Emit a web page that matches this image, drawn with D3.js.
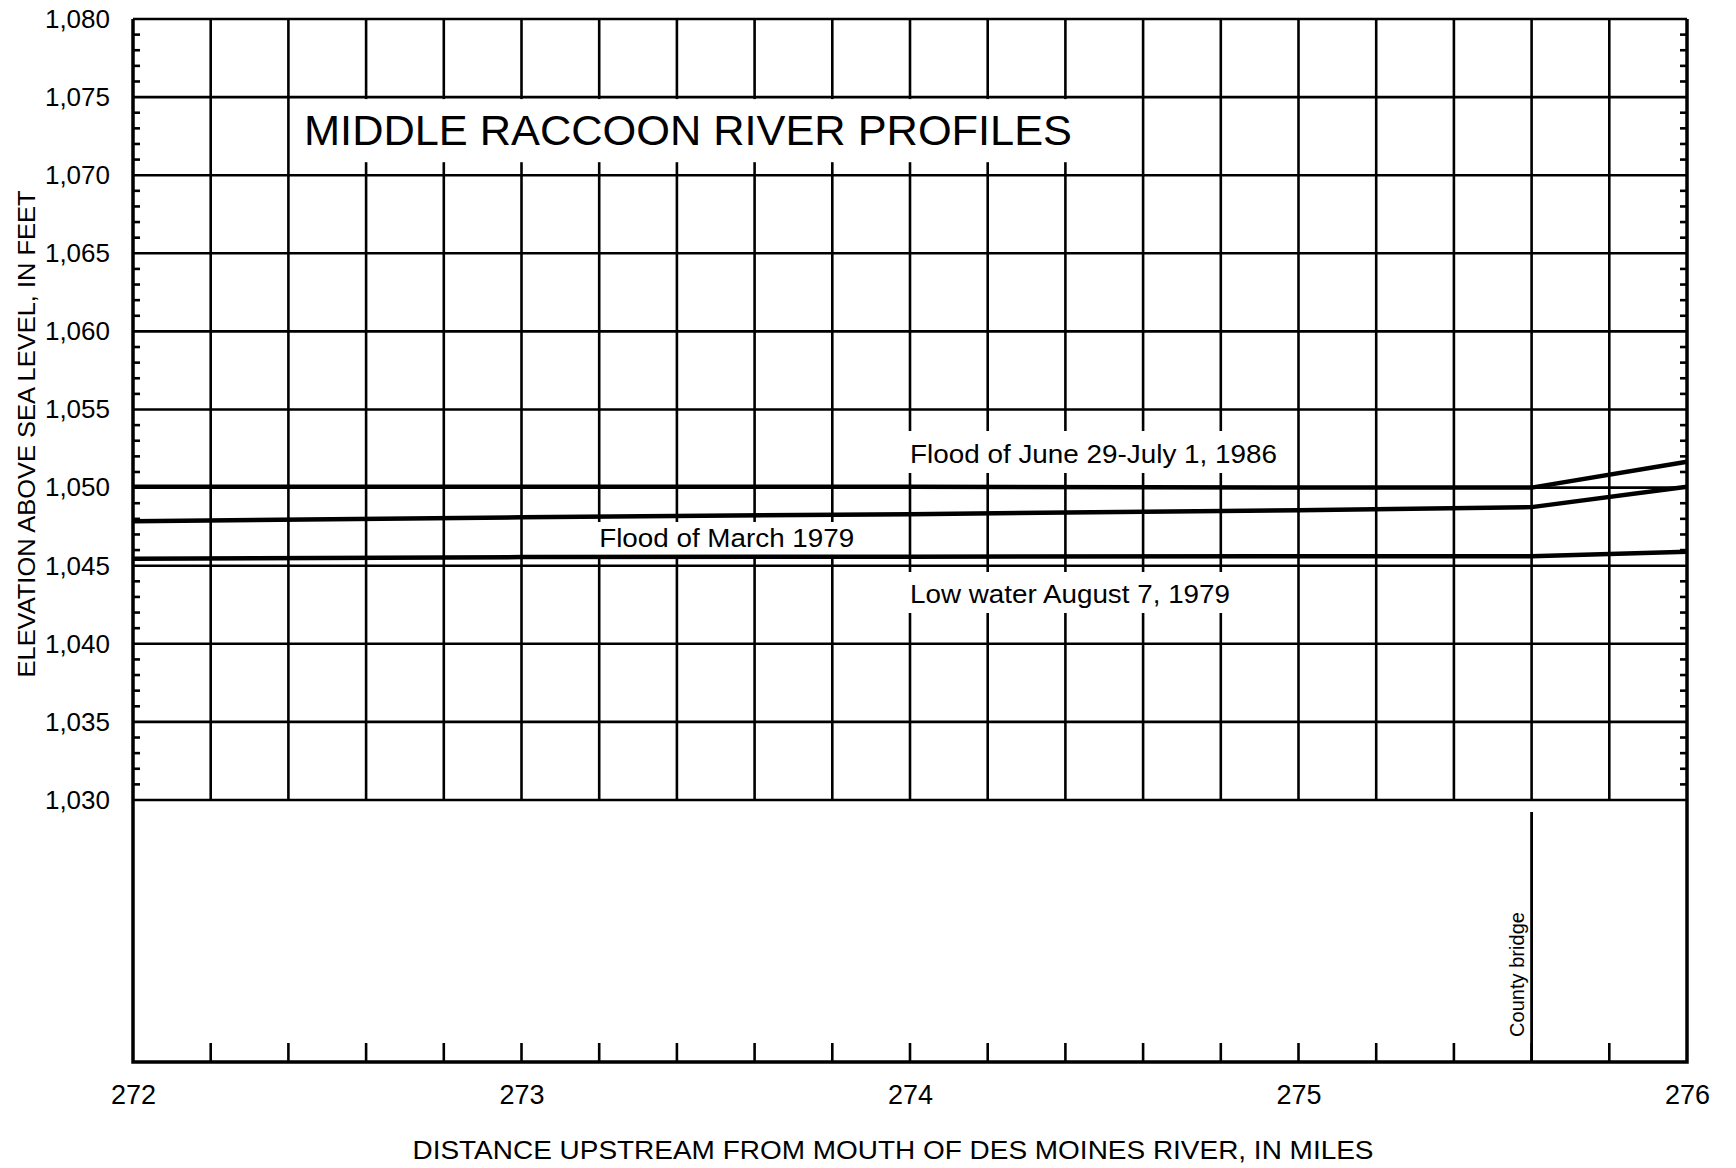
<!DOCTYPE html>
<html>
<head>
<meta charset="utf-8">
<title>Middle Raccoon River Profiles</title>
<script src="https://d3js.org/d3.v7.min.js"></script>
<style>
  body { margin: 0; background: #fff; }
  svg { display: block; font-family: "Liberation Sans", Arial, Helvetica, sans-serif; }
  .grid line { stroke: #000; stroke-width: 2.6; }
  .profile { fill: none; stroke: #000; stroke-width: 4.5; stroke-linejoin: round; }
</style>
</head>
<body>
<svg width="1736" height="1168"></svg>
<script>
// river miles where the profiles were read
var miles = [272, 273, 274, 275, 275.6, 276];

// water surface elevations, feet
var flood1986 = [1050.05, 1050.05, 1050.05, 1050.0, 1050.0, 1051.65];
var flood1979 = [1047.85, 1048.1, 1048.3, 1048.55, 1048.75, 1050.05];
var lowWater  = [1045.45, 1045.55, 1045.58, 1045.6, 1045.6, 1045.9];

var seriesNames = ["Flood of June 29-July 1, 1986", "Flood of March 1979", "Low water August 7, 1979"];

// axis labels
var xLabels = [272, 273, 274, 275, 276];
var yLabels = [1030, 1035, 1040, 1045, 1050, 1055, 1060, 1065, 1070, 1075, 1080];
var bridgeMile = 275.6;

// plot box (note: "top" is a reserved window global, so use other names)
var pLeft = 133, pRight = 1687, pTop = 19, gridBottom = 800, pBottom = 1062;

var x = d3.scaleLinear().domain([272, 276]).range([pLeft, pRight]);
var y = d3.scaleLinear().domain([1030, 1080]).range([gridBottom, pTop]);

var svg = d3.select("svg");

// vertical grid every 0.2 mile, horizontal every 5 ft
var xGrid = d3.range(1, 20).map(function(i) { return 272 + i * 0.2; });
var grid = svg.append("g").attr("class", "grid");
grid.selectAll(".v").data(xGrid).enter().append("line")
  .attr("x1", function(d) { return x(d); }).attr("x2", function(d) { return x(d); })
  .attr("y1", pTop).attr("y2", gridBottom);
grid.selectAll(".h").data(yLabels).enter().append("line")
  .attr("x1", pLeft).attr("x2", pRight)
  .attr("y1", function(d) { return y(d); }).attr("y2", function(d) { return y(d); });

// minor 1-ft ticks on both sides
var minor = d3.range(1031, 1080).filter(function(d) { return d % 5 != 0; });
grid.selectAll(".ml").data(minor).enter().append("line")
  .attr("x1", pLeft).attr("x2", pLeft + 7)
  .attr("y1", function(d) { return y(d); }).attr("y2", function(d) { return y(d); });
grid.selectAll(".mr").data(minor).enter().append("line")
  .attr("x1", pRight).attr("x2", pRight - 7)
  .attr("y1", function(d) { return y(d); }).attr("y2", function(d) { return y(d); });

// bottom ticks
grid.selectAll(".bt").data(xGrid).enter().append("line")
  .attr("x1", function(d) { return x(d); }).attr("x2", function(d) { return x(d); })
  .attr("y1", pBottom).attr("y2", pBottom - 19);

// white boxes behind the labels (hide grid lines)
function box(m0, m1, y0, y1) {
  svg.append("rect")
    .attr("x", x(m0) + 2).attr("width", x(m1) - x(m0) - 4)
    .attr("y", y0).attr("height", y1 - y0)
    .attr("fill", "#fff");
}
box(272.4, 274.6, y(1075) + 2, y(1070) - 13);
box(273.8, 275.0, 431, 473);
box(273.0, 274.0, 522, 555);
box(273.8, 275.0, 572, 613);

// frame
svg.append("path")
  .attr("d", "M" + pLeft + "," + pTop + "V" + pBottom + "H" + pRight + "V" + pTop)
  .attr("fill", "none").attr("stroke", "#000").attr("stroke-width", 3.5);

// county bridge
svg.append("line")
  .attr("x1", x(bridgeMile)).attr("x2", x(bridgeMile))
  .attr("y1", 812).attr("y2", pBottom)
  .attr("stroke", "#000").attr("stroke-width", 2.8);
svg.append("text")
  .attr("transform", "translate(" + (x(bridgeMile) - 8) + ",1037) rotate(-90)")
  .attr("font-size", 20)
  .attr("textLength", 125).attr("lengthAdjust", "spacingAndGlyphs")
  .text("County bridge");

// profiles
var line = d3.line()
  .x(function(d) { return x(d[0]); })
  .y(function(d) { return y(d[1]); });
[flood1986, flood1979, lowWater].forEach(function(vals) {
  svg.append("path")
    .attr("class", "profile")
    .attr("d", line(d3.zip(miles, vals)));
});

// axes (labels only)
var xAxis = svg.append("g")
  .attr("transform", "translate(0," + pBottom + ")")
  .call(d3.axisBottom(x).tickValues(xLabels).tickSize(0).tickPadding(23).tickFormat(d3.format("d")));
var yAxis = svg.append("g")
  .attr("transform", "translate(" + pLeft + ",0)")
  .call(d3.axisLeft(y).tickValues(yLabels).tickSize(0).tickPadding(23).tickFormat(d3.format(",")));
[xAxis, yAxis].forEach(function(a) {
  a.select(".domain").remove();
  a.attr("font-family", null).attr("font-size", null);
  a.selectAll("text").attr("fill", "#000");
});
xAxis.selectAll("text").attr("font-size", 27);
yAxis.selectAll("text").attr("font-size", 26);

// axis titles
svg.append("text")
  .attr("x", 893).attr("y", 1159)
  .attr("text-anchor", "middle")
  .attr("font-size", 26)
  .attr("textLength", 961).attr("lengthAdjust", "spacingAndGlyphs")
  .text("DISTANCE UPSTREAM FROM MOUTH OF DES MOINES RIVER, IN MILES");
svg.append("text")
  .attr("transform", "translate(35,434) rotate(-90)")
  .attr("text-anchor", "middle")
  .attr("font-size", 24)
  .attr("textLength", 487).attr("lengthAdjust", "spacingAndGlyphs")
  .text("ELEVATION ABOVE SEA LEVEL, IN FEET");

// title
svg.append("text")
  .attr("x", 304).attr("y", 145)
  .attr("font-size", 43)
  .attr("textLength", 768).attr("lengthAdjust", "spacingAndGlyphs")
  .text("MIDDLE RACCOON RIVER PROFILES");

// series labels
var labelPos = [[274.0, 463, 367], [273.2, 547, 255], [274.0, 603, 320]];
seriesNames.forEach(function(name, i) {
  svg.append("text")
    .attr("x", x(labelPos[i][0])).attr("y", labelPos[i][1])
    .attr("font-size", 26)
    .attr("textLength", labelPos[i][2]).attr("lengthAdjust", "spacingAndGlyphs")
    .text(name);
});
</script>
</body>
</html>
